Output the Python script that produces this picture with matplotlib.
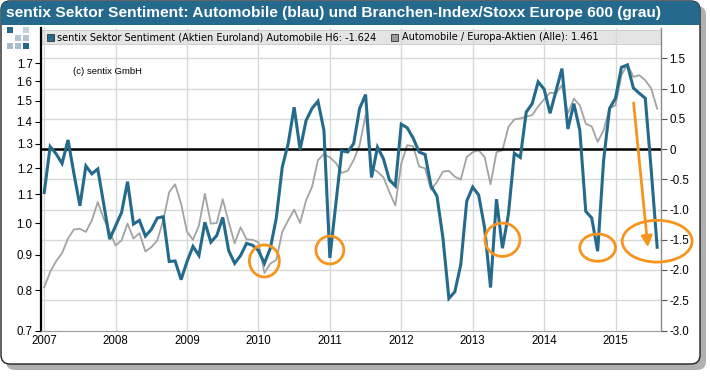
import matplotlib.pyplot as plt
import numpy as np
from matplotlib.patches import Ellipse, FancyBboxPatch, Rectangle
from matplotlib.transforms import Affine2D, blended_transform_factory

plt.rcParams['font.family'] = ['Liberation Sans', 'DejaVu Sans']

# Monthly values, Jan 2007 .. Aug 2015
start_year = 2007
sentiment = [
    -0.72, 0.04, -0.08, -0.24, 0.15, -0.41, -0.94, -0.28, -0.41, -0.33, -0.91, -1.49,
    -1.27, -1.05, -0.54, -1.24, -1.18, -1.44, -1.33, -1.14, -1.12, -1.86, -1.85, -2.16,
    -1.86, -1.61, -1.76, -1.21, -1.54, -1.43, -1.13, -1.68, -1.89, -1.76, -1.56, -1.59,
    -1.68, -1.89, -1.64, -1.14, -0.30, 0.09, 0.69, -0.01, 0.47, 0.67, 0.79, 0.31,
    -1.80, -0.91, -0.03, -0.05, 0.09, 0.67, 0.90, -0.47, 0.03, -0.16, -0.51, -0.61,
    0.41, 0.35, 0.18, -0.05, -0.09, -0.61, -0.78, -1.47, -2.47, -2.36, -1.91, -0.86,
    -0.63, -0.76, -1.30, -2.29, -0.83, -1.64, -1.08, -0.07, -0.14, 0.61, 0.75, 1.11,
    0.99, 0.59, 0.96, 1.33, 0.33, 0.75, 0.31, -1.03, -1.14, -1.69, -0.19, 0.67,
    0.84, 1.35, 1.39, 1.01, 0.92, 0.84, -0.35, -1.624,
]
ratio = [
    0.808, 0.850, 0.881, 0.905, 0.950, 0.979, 0.981, 0.971, 1.009, 1.072, 1.015, 0.971,
    0.928, 0.944, 0.998, 0.950, 0.967, 0.910, 0.923, 0.944, 1.009, 1.108, 1.137, 1.066,
    0.971, 0.946, 0.992, 1.102, 0.998, 1.000, 1.082, 1.003, 0.935, 0.986, 0.947, 0.946,
    0.938, 0.847, 0.874, 0.885, 0.971, 1.009, 1.045, 1.000, 1.078, 1.127, 1.232, 1.257,
    1.243, 1.221, 1.181, 1.189, 1.232, 1.295, 1.431, 1.199, 1.186, 1.164, 1.108, 1.060,
    1.218, 1.295, 1.290, 1.206, 1.199, 1.117, 1.146, 1.186, 1.189, 1.166, 1.155, 1.245,
    1.265, 1.273, 1.245, 1.137, 1.265, 1.273, 1.376, 1.410, 1.415, 1.423, 1.431, 1.472,
    1.508, 1.541, 1.538, 1.580, 1.439, 1.510, 1.478, 1.390, 1.378, 1.309, 1.360, 1.464,
    1.478, 1.633, 1.694, 1.624, 1.633, 1.606, 1.563, 1.461,
]
years = list(range(2007, 2016))
left_ticks = [0.7, 0.8, 0.9, 1.0, 1.1, 1.2, 1.3, 1.4, 1.5, 1.6, 1.7]
right_ticks = [-3.0, -2.5, -2.0, -1.5, -1.0, -0.5, 0.0, 0.5, 1.0, 1.5]
# months circled in orange (index into the series)
highlight = [37, 48, 77, 93, 103]

blue_label = 'sentix Sektor Sentiment (Aktien Euroland) Automobile H6: -1.624'
gray_label = 'Automobile / Europa-Aktien (Alle): 1.461'
title = 'sentix Sektor Sentiment: Automobile (blau) und Branchen-Index/Stoxx Europe 600 (grau)'

BLUE = '#246a8c'
GRAY = '#a3a3a3'
ORANGE = '#f7941d'

t = start_year + np.arange(len(sentiment)) / 12.0

W, H = 710, 376
fig = plt.figure(figsize=(W / 100, H / 100), dpi=100)
px = Affine2D().scale(1 / W, -1 / H).translate(0, 1) + fig.transFigure

# frame with shadow and title bar
fig.add_artist(FancyBboxPatch((6, 6), 700, 364, boxstyle='round,pad=0,rounding_size=9',
                              transform=px, fc='#b0b0b0', ec='none', zorder=0))
fig.add_artist(FancyBboxPatch((1, 1), 699, 363, boxstyle='round,pad=0,rounding_size=9',
                              transform=px, fc='white', ec='#222222', lw=1.0, zorder=1))
fig.add_artist(FancyBboxPatch((1, 1), 699, 24, boxstyle='round,pad=0,rounding_size=9',
                              transform=px, fc='#256a8d', ec='none', zorder=2))
fig.add_artist(Rectangle((1, 14), 699, 11, transform=px, fc='#256a8d', ec='none', zorder=2))
fig.text(6 / W, 1 - 13 / H, title, color='white', fontsize=11.15, fontweight='bold',
         va='center', ha='left', zorder=3)

# logo squares
logo = [(7, 27, BLUE), (23, 27, '#c5d2dc'), (15, 35, '#b4c4d0'), (23, 35, '#b4c4d0'),
        (7, 43, '#a9bccb'), (15, 43, '#a9bccb'), (23, 43, BLUE)]
for lx, ly, c in logo:
    fig.add_artist(Rectangle((lx, ly), 6, 6, transform=px, fc=c, ec='none', zorder=3))

x0, x1, y0, y1 = 41, 661, 28, 330.5
ax = fig.add_axes([x0 / W, 1 - y1 / H, (x1 - x0) / W, (y1 - y0) / H], zorder=5)
ax.patch.set_alpha(0)
ax2 = ax.twinx()

ax.set_yscale('log')
ax.set_ylim(0.7, 1.91)
ax2.set_ylim(-3.0, 2.0)
ax.set_xlim(2006.955, 2015.637)

# legend bar behind the grid
ax.add_patch(Rectangle((0, 0.946), 1, 0.047, transform=ax.transAxes,
                       fc='#e4e4e4', ec='#c8c8c8', lw=0.6, zorder=0))

# grid: vertical at years, horizontal at right-axis ticks
ax.set_xticks(years)
ax.grid(axis='x', color='#d8d8d8', lw=1.0, zorder=0.5)
hb = blended_transform_factory(ax.transAxes, ax2.transData)
for v in right_ticks[1:]:
    ax.plot([0, 1], [v, v], transform=hb, color='#d8d8d8', lw=1.0, zorder=0.5)

ax.plot(t, ratio, color=GRAY, lw=1.3, zorder=2)

ax2.axhline(0, color='black', lw=1.8, zorder=2)
ax2.plot(t, sentiment, color=BLUE, lw=2.2, zorder=3, solid_joinstyle='miter')

# orange highlight ellipses around the dips
sizes = [(0.42, 0.53), (0.39, 0.46), (0.49, 0.55), (0.50, 0.45), (0.98, 0.69)]
offs = [0.04, 0.13, 0.14, 0.06, 0.10]
for m, (w, h), dy in zip(highlight, sizes, offs):
    ax2.add_patch(Ellipse((t[m], sentiment[m] + dy), w, h, fill=False, ec=ORANGE,
                          lw=2.0, zorder=4, clip_on=False))
ax2.annotate('', xy=(t[-1] - 0.13, sentiment[-1]), xytext=(t[-1] - 0.33, 0.76),
             arrowprops=dict(arrowstyle='-|>', color=ORANGE, lw=2.0, mutation_scale=16,
                             shrinkA=0, shrinkB=0), zorder=4)

# axes cosmetics
ax.set_yticks(left_ticks)
ax.set_yticklabels(['%.1f' % v for v in left_ticks])
ax.yaxis.set_minor_locator(plt.NullLocator())
ax.yaxis.set_minor_formatter(plt.NullFormatter())
ax.tick_params(axis='y', labelsize=8.3, length=4, width=0.8, direction='out', pad=2)
ax.tick_params(axis='x', labelsize=8.3, length=0, pad=3)
ax2.set_yticks(right_ticks)
ax2.set_yticklabels(['0' if v == 0 else '%.1f' % v for v in right_ticks])
ax2.tick_params(axis='y', labelsize=8.3, length=4, width=0.8, direction='out', pad=2,
                color='#555555')

for a in (ax, ax2):
    for side in ('top', 'left', 'right', 'bottom'):
        a.spines[side].set_visible(False)
ax.spines['left'].set_visible(True)
ax.spines['left'].set_linewidth(1.6)
ax.spines['left'].set_color('black')
ax2.spines['right'].set_visible(True)
ax2.spines['right'].set_color('#8a8a8a')
ax2.spines['right'].set_linewidth(1.0)
ax.spines['bottom'].set_visible(True)
ax.spines['bottom'].set_color('#9a9a9a')
ax.spines['bottom'].set_linewidth(0.8)

# legend entries inside the bar
ly = 0.9695
ax.add_patch(Rectangle((6 / (x1 - x0), ly - 0.012), 6.5 / (x1 - x0), 0.024,
                       transform=ax.transAxes, fc=BLUE, ec='#333333', lw=0.6, zorder=6))
ax.text(16 / (x1 - x0), ly, blue_label, transform=ax.transAxes, fontsize=7.0,
        family='DejaVu Sans', va='center', ha='left', zorder=6)
ax.add_patch(Rectangle((350 / (x1 - x0), ly - 0.012), 6.5 / (x1 - x0), 0.024,
                       transform=ax.transAxes, fc='#9a9a9a', ec='#333333', lw=0.6, zorder=6))
ax.text(361 / (x1 - x0), ly, gray_label, transform=ax.transAxes, fontsize=7.0,
        family='DejaVu Sans', va='center', ha='left', zorder=6)

ax.text(32 / (x1 - x0), 1 - (71 - y0) / (y1 - y0), '(c) sentix GmbH',
        transform=ax.transAxes, fontsize=6.8, va='center', ha='left', zorder=6)

fig.savefig('out.png', dpi=100)
